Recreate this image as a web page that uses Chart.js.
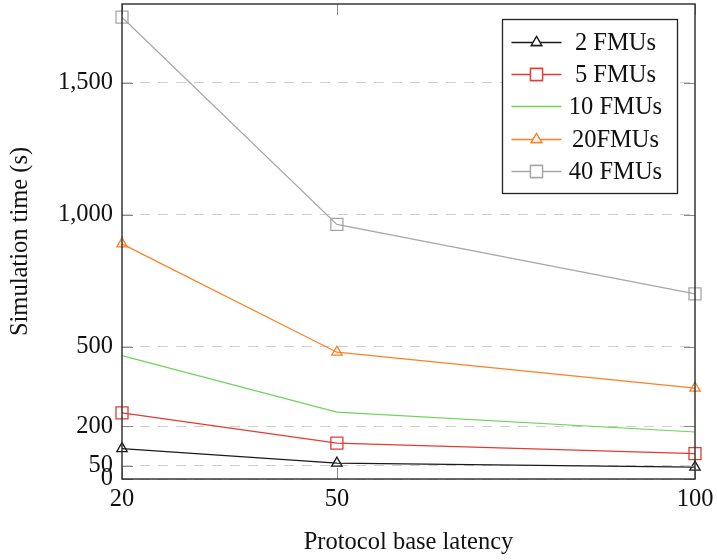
<!DOCTYPE html>
<html>
<head>
<meta charset="utf-8">
<script src="https://cdn.jsdelivr.net/npm/chart.js@4"></script>
<style>
  html, body { margin: 0; padding: 0; background: #fff; }
  #wrap { width: 717px; height: 560px; }
</style>
</head>
<body>
<div id="wrap"><canvas id="chart"></canvas></div>
<script>
  // x: protocol base latency
  const latencias = [20, 50, 100];
  const xTicks = [20, 50, 100];
  const yTicks = [0, 50, 200, 500, 1000, 1500];

  // tiempos de simulación (s)
  const fmu2 = [115, 60, 45];
  const fmu5 = [250, 136, 96];
  const fmu10 = [467, 253, 178];
  const fmu20 = [890, 480, 344];
  const fmu40 = [1748, 964, 701];

  const fuente = "'Liberation Serif', 'Times New Roman', serif";

  // los marcadores pueden salirse del área (clip: false), sin reservar margen extra
  Chart.LineController.prototype.getMaxOverflow = () => 0;

  function puntos(valores) {
    return valores.map((v, i) => ({ x: latencias[i], y: v }));
  }

  function serie(label, valores, color, estilo) {
    return {
      label: label,
      data: puntos(valores),
      borderColor: color,
      backgroundColor: "rgba(255,255,255,0)",
      borderWidth: 1.2,
      pointStyle: estilo || false,
      pointRadius: estilo === "rect" ? 8.5 : (estilo ? 6 : 0),
      pointBorderWidth: 1.3,
      pointBorderColor: color,
      pointBackgroundColor: "rgba(255,255,255,0)",
      tension: 0,
      clip: false
    };
  }

  // marco, ticks interiores y leyenda al estilo pgfplots
  const marcoPlugin = {
    id: "marco",
    afterDraw(chart) {
      const ctx = chart.ctx;
      const a = chart.chartArea;
      const xs = chart.scales.x, ys = chart.scales.y;
      ctx.save();
      // ticks interiores
      ctx.strokeStyle = "#8a8a8a";
      ctx.lineWidth = 1;
      yTicks.forEach(v => {
        const y = Math.round(ys.getPixelForValue(v)) + 0.5;
        ctx.beginPath();
        ctx.moveTo(a.left, y); ctx.lineTo(a.left + 11, y);
        ctx.moveTo(a.right, y); ctx.lineTo(a.right - 11, y);
        ctx.stroke();
      });
      xTicks.forEach(v => {
        const x = Math.round(xs.getPixelForValue(v)) + 0.5;
        ctx.beginPath();
        ctx.moveTo(x, a.bottom); ctx.lineTo(x, a.bottom - 11);
        ctx.moveTo(x, a.top); ctx.lineTo(x, a.top + 11);
        ctx.stroke();
      });
      // marco
      ctx.strokeStyle = "#2a2a2a";
      ctx.lineWidth = 1.4;
      ctx.strokeRect(a.left, a.top, a.right - a.left, a.bottom - a.top);

      // leyenda
      const bx = Math.round(a.right - 193) + 0.5, by = Math.round(a.top + 15) + 0.5, bw = 175, bh = 174;
      ctx.fillStyle = "#fff";
      ctx.fillRect(bx, by, bw, bh);
      ctx.strokeStyle = "#222";
      ctx.lineWidth = 1.3;
      ctx.strokeRect(bx, by, bw, bh);
      ctx.font = "24.5px " + fuente;
      ctx.textAlign = "center";
      ctx.textBaseline = "middle";
      chart.data.datasets.forEach((ds, i) => {
        const cy = Math.round(by + 22 + i * 32.4) + 0.5;
        ctx.strokeStyle = ds.borderColor;
        ctx.lineWidth = 1.5;
        ctx.beginPath();
        ctx.moveTo(bx + 9, cy); ctx.lineTo(bx + 59, cy);
        ctx.stroke();
        if (ds.pointStyle) {
          ctx.lineWidth = 1.3;
          Chart.helpers.drawPoint(ctx, {
            pointStyle: ds.pointStyle, rotation: 0,
            radius: ds.pointRadius, borderWidth: 1.3
          }, bx + 34, cy);
          ctx.fillStyle = "#fff";
          ctx.fill();
          ctx.stroke();
        }
        ctx.fillStyle = "#111";
        ctx.fillText(ds.label, bx + 113, cy + 1);
      });
      ctx.restore();
    }
  };

  new Chart(document.getElementById("chart"), {
    type: "line",
    data: {
      datasets: [
        serie("2 FMUs", fmu2, "#1a1a1a", "triangle"),
        serie("5 FMUs", fmu5, "#e33b30", "rect"),
        serie("10 FMUs", fmu10, "#6fd45c", null),
        serie("20FMUs", fmu20, "#ff7f22", "triangle"),
        serie("40 FMUs", fmu40, "#a6a6a6", "rect")
      ]
    },
    options: {
      responsive: true,
      maintainAspectRatio: false,
      animation: false,
      layout: { padding: { left: 0, right: 22, top: 4, bottom: 0 } },
      plugins: {
        legend: { display: false },
        tooltip: { enabled: false }
      },
      scales: {
        x: {
          type: "linear",
          min: 20,
          max: 100,
          afterBuildTicks: s => { s.ticks = xTicks.map(v => ({ value: v })); },
          afterFit: s => {
            s.height = 81;
            s.paddingLeft = 0; s.paddingRight = 0;
          },
          grid: { display: false, drawTicks: false },
          border: { display: false },
          ticks: {
            color: "#111",
            padding: 6,
            autoSkip: false,
            maxRotation: 0,
            font: { family: fuente, size: 24.5 }
          },
          title: {
            display: true,
            text: "Protocol base latency",
            color: "#111",
            padding: { top: 0, bottom: 3 },
            font: { family: fuente, size: 24.5 }
          }
        },
        y: {
          min: 0,
          max: 1798,
          afterBuildTicks: s => { s.ticks = yTicks.map(v => ({ value: v })); },
          afterFit: s => {
            s.width = 122;
            s.paddingTop = 0; s.paddingBottom = 0;
          },
          grid: { color: "#cfcfcf", lineWidth: 1, drawTicks: false },
          border: { display: false, dash: [10, 8] },
          ticks: {
            color: "#111",
            padding: 9,
            autoSkip: false,
            font: { family: fuente, size: 24.5 },
            callback: v => v.toLocaleString("en-US")
          },
          title: {
            display: true,
            text: "Simulation time (s)",
            color: "#111",
            padding: { top: 6, bottom: 0 },
            font: { family: fuente, size: 24.5 }
          }
        }
      }
    },
    plugins: [marcoPlugin]
  });
</script>
</body>
</html>
